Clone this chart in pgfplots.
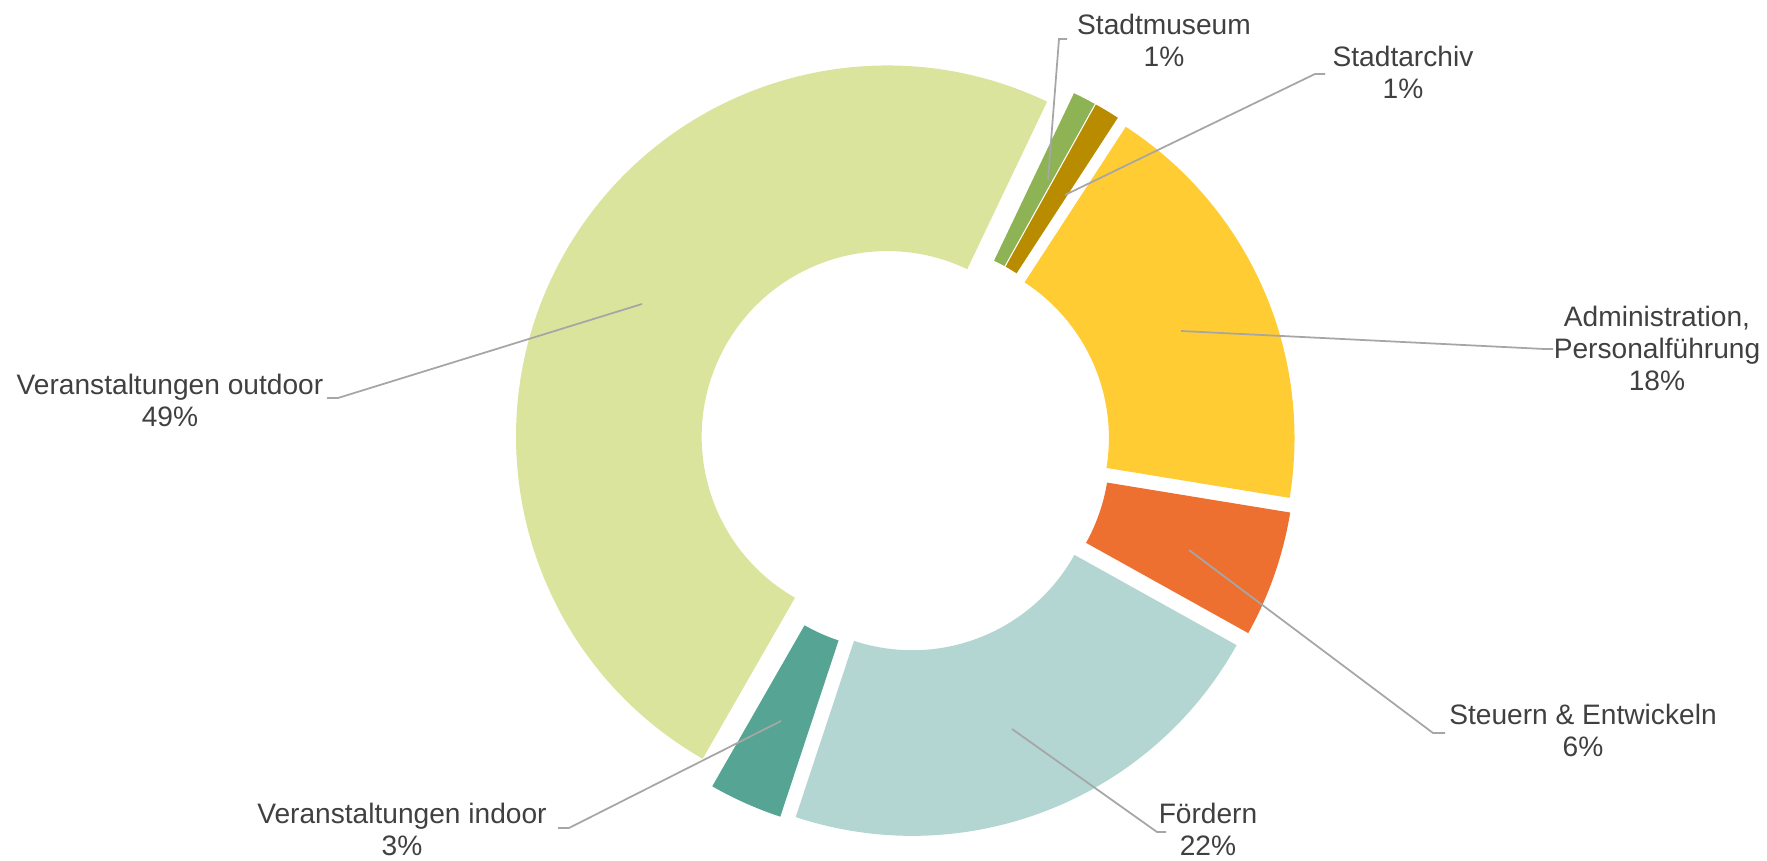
\documentclass[border=0pt]{standalone}
\usepackage{pgfplots}
\pgfplotsset{compat=1.18}
\usepackage{fontspec}
\setmainfont{Liberation Sans}

\definecolor{cOut}{HTML}{DAE49D}
\definecolor{cMus}{HTML}{8DB355}
\definecolor{cArc}{HTML}{B98C00}
\definecolor{cAdm}{HTML}{FFCD33}
\definecolor{cSte}{HTML}{EE7031}
\definecolor{cFoe}{HTML}{B3D6D2}
\definecolor{cInd}{HTML}{56A594}
\definecolor{cTxt}{HTML}{404040}
\definecolor{cLine}{HTML}{A6A6A6}

\begin{document}
\begin{tikzpicture}
\begin{axis}[
  name=ax,
  x=0.01cm, y=0.01cm,
  xmin=0, xmax=1767, ymin=0, ymax=861,
  hide axis, clip=false,
]
\path (axis cs:0,0) rectangle (axis cs:1767,861);

% donut, clockwise from 25.5 deg past 12 o'clock, every slice pushed out by 20
\gdef\acc{25.5}
\foreach \v/\c in {1.0/cMus, 1.1/cArc, 18.4/cAdm, 5.5/cSte, 22.0/cFoe, 3.2/cInd, 48.8/cOut}{
  \pgfmathsetmacro\aS{90-\acc}
  \pgfmathsetmacro\aE{90-\acc-3.6*\v}
  \pgfmathsetmacro\aM{(\aS+\aE)/2}
  \pgfmathsetmacro\px{905+20*cos(\aM)}
  \pgfmathsetmacro\py{415+20*sin(\aM)}
  \edef\temp{\noexpand\fill[\c] (axis cs:\px,\py) ++(\aS:3.71cm)
    arc[start angle=\aS, end angle=\aE, radius=3.71cm]
    -- ([shift={(\aE:1.855cm)}]axis cs:\px,\py)
    arc[start angle=\aE, end angle=\aS, radius=1.855cm] -- cycle;}
  \temp
  \pgfmathsetmacro\n{\acc+3.6*\v}
  \xdef\acc{\n}
}

% leader lines
\draw[cLine, line width=0.5pt] (axis cs:1048,681) -- (axis cs:1059,822) -- (axis cs:1067,822);
\draw[cLine, line width=0.5pt] (axis cs:1065,666) -- (axis cs:1315,787) -- (axis cs:1325,787);
\draw[cLine, line width=0.5pt] (axis cs:1181,530) -- (axis cs:1544,512) -- (axis cs:1553,512);
\draw[cLine, line width=0.5pt] (axis cs:1189,311) -- (axis cs:1433,128) -- (axis cs:1445,128);
\draw[cLine, line width=0.5pt] (axis cs:1012,132) -- (axis cs:1157,29) -- (axis cs:1166,29);
\draw[cLine, line width=0.5pt] (axis cs:781,140) -- (axis cs:569,33) -- (axis cs:558,33);
\draw[cLine, line width=0.5pt] (axis cs:642,557) -- (axis cs:338,463) -- (axis cs:327,463);

% labels
\tikzset{lbl/.style={align=center, text=cTxt, inner sep=0pt, font=\fontsize{8}{9.1}\selectfont}}
\node[lbl] at (axis cs:1164,820.5) {Stadtmuseum\\1\%};
\node[lbl] at (axis cs:1403,789) {Stadtarchiv\\1\%};
\node[lbl] at (axis cs:1657,513) {Administration,\\Personalführung\\18\%};
\node[lbl] at (axis cs:1583,130.5) {Steuern \& Entwickeln\\6\%};
\node[lbl] at (axis cs:1208,31.5) {Fördern\\22\%};
\node[lbl] at (axis cs:402,31.5) {Veranstaltungen indoor\\3\%};
\node[lbl] at (axis cs:170,460.5) {Veranstaltungen outdoor\\49\%};
\end{axis}
\pgfresetboundingbox
\path (ax.south west) rectangle (ax.north east);
\end{tikzpicture}
\end{document}
